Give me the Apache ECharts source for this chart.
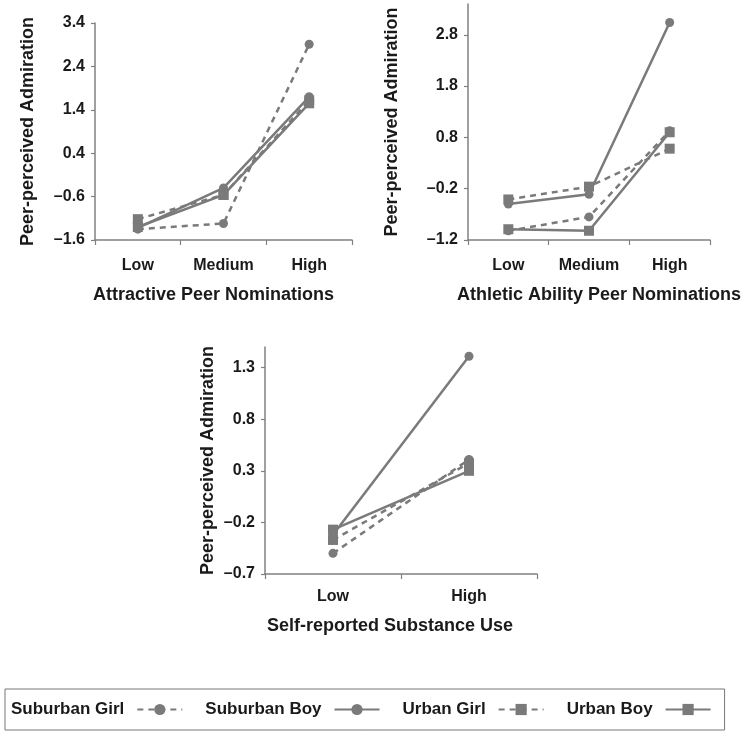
<!DOCTYPE html>
<html>
<head>
<meta charset="utf-8">
<script src="https://cdn.jsdelivr.net/npm/echarts@6/dist/echarts.min.js"></script>
<style>
html,body{margin:0;padding:0;background:#fff;}
#chart{width:750px;height:738px;}
</style>
</head>
<body>
<div id="chart"></div>
<script>
// ---- data ----
const seriesNames = ['Suburban Girl', 'Suburban Boy', 'Urban Girl', 'Urban Boy'];
const levels3 = ['Low', 'Medium', 'High'];
const levels2 = ['Low', 'High'];

// Attractive Peer Nominations
const attractiveSuburbanGirl = [-1.35, -1.22, 2.91];
const attractiveSuburbanBoy  = [-1.32, -0.40, 1.70];
const attractiveUrbanGirl    = [-1.12, -0.56, 1.62];
const attractiveUrbanBoy     = [-1.30, -0.56, 1.55];

// Athletic Ability Peer Nominations
const athleticSuburbanGirl = [-1.02, -0.75, 0.93];
const athleticSuburbanBoy  = [-0.50, -0.31, 3.04];
const athleticUrbanGirl    = [-0.41, -0.16, 0.58];
const athleticUrbanBoy     = [-0.99, -1.02, 0.90];

// Self-reported Substance Use
const substanceSuburbanGirl = [-0.50, 0.41];
const substanceSuburbanBoy  = [-0.32, 1.41];
const substanceUrbanGirl    = [-0.37, 0.375];
const substanceUrbanBoy     = [-0.27, 0.30];

// tick labels
const yTicksAttractive = [-1.6, -0.6, 0.4, 1.4, 2.4, 3.4];
const yTicksAthletic   = [-1.2, -0.2, 0.8, 1.8, 2.8];
const yTicksSubstance  = [-0.7, -0.2, 0.3, 0.8, 1.3];

const xTitles = ['Attractive Peer Nominations', 'Athletic Ability Peer Nominations', 'Self-reported Substance Use'];
const yTitle = 'Peer-perceived Admiration';

// ---- styles ----
const FONT = '"Liberation Sans", Arial, Helvetica, sans-serif';
const TXT = '#1a1a1a';
const AX = '#808080';
const LINE = '#7a7a7a';

function fmt(v) {
  const s = (Math.round(v * 10) / 10).toFixed(1);
  return s.replace('-', '\u2013');
}

function yAxis(gi, min, max, ticks, nameGap) {
  return {
    type: 'value', gridIndex: gi, min: min, max: max, interval: 1,
    name: yTitle, nameLocation: 'middle', nameRotate: 90, nameGap: nameGap,
    nameTextStyle: {fontFamily: FONT, fontWeight: 'bold', fontSize: 18, color: TXT},
    axisLine: {show: true, lineStyle: {color: AX, width: 1.5}},
    axisTick: {show: true, length: 4, customValues: ticks, lineStyle: {color: AX, width: 1.2}},
    axisLabel: {customValues: ticks, formatter: fmt, margin: 10,
      fontFamily: FONT, fontWeight: 'bold', fontSize: 16, color: TXT},
    splitLine: {show: false}
  };
}

function xAxis(gi, cats, title, nameGap, labelMargin, shift) {
  return {
    type: 'category', gridIndex: gi, data: cats, boundaryGap: true,
    name: title, nameLocation: 'middle', nameGap: nameGap,
    nameTextStyle: {fontFamily: FONT, fontWeight: 'bold', fontSize: 18, color: TXT,
      padding: shift > 0 ? [0, 0, 0, 2 * shift] : [0, -2 * shift, 0, 0]},
    axisLine: {show: true, onZero: false, lineStyle: {color: AX, width: 1.5}},
    axisTick: {show: true, length: 5, alignWithLabel: false, lineStyle: {color: AX, width: 1.2}},
    axisLabel: {margin: labelMargin, fontFamily: FONT, fontWeight: 'bold', fontSize: 16, color: TXT},
    splitLine: {show: false}
  };
}

const styleOf = {
  'Suburban Girl': {dashed: true, symbol: 'circle'},
  'Suburban Boy':  {dashed: false, symbol: 'circle'},
  'Urban Girl':    {dashed: true, symbol: 'rect'},
  'Urban Boy':     {dashed: false, symbol: 'rect'}
};

function mk(name, data, gi) {
  const st = styleOf[name];
  return {
    name: name, type: 'line', xAxisIndex: gi, yAxisIndex: gi, data: data,
    symbol: st.symbol, symbolSize: st.symbol === 'circle' ? 9 : 10,
    showSymbol: true, animation: false,
    lineStyle: {color: LINE, width: 2.5, type: st.dashed ? [6, 5] : 'solid'},
    itemStyle: {color: LINE, borderWidth: 0},
    emphasis: {disabled: true}
  };
}

const panelData = [
  [attractiveSuburbanGirl, attractiveSuburbanBoy, attractiveUrbanGirl, attractiveUrbanBoy],
  [athleticSuburbanGirl, athleticSuburbanBoy, athleticUrbanGirl, athleticUrbanBoy],
  [substanceSuburbanGirl, substanceSuburbanBoy, substanceUrbanGirl, substanceUrbanBoy]
];

const series = [];
panelData.forEach((arrs, gi) => {
  arrs.forEach((d, k) => series.push(mk(seriesNames[k], d, gi)));
});

const option = {
  backgroundColor: '#fff',
  animation: false,
  textStyle: {fontFamily: FONT},
  grid: [
    {left: 95, top: 23, width: 257, height: 217, containLabel: false},
    {left: 468, top: 4, width: 242, height: 236, containLabel: false},
    {left: 265, top: 347, width: 272, height: 227, containLabel: false}
  ],
  xAxis: [
    xAxis(0, levels3, xTitles[0], 46, 18, -10),
    xAxis(1, levels3, xTitles[1], 46, 18, 10),
    xAxis(2, levels2, xTitles[2], 43, 15, -11)
  ],
  yAxis: [
    yAxis(0, -1.6, 3.4, yTicksAttractive, 58),
    yAxis(1, -1.2, 3.4, yTicksAthletic, 67),
    yAxis(2, -0.7, 1.5, yTicksSubstance, 48)
  ],
  legend: {
    data: seriesNames,
    left: 5, top: 689,
    orient: 'horizontal', align: 'right',
    padding: [12, 13, 12, 6],
    borderColor: '#777', borderWidth: 1,
    itemWidth: 45, itemHeight: 14, itemGap: 22,
    selectedMode: false,
    textStyle: {fontFamily: FONT, fontWeight: 'bold', fontSize: 17, color: TXT, padding: [0, 8, 0, 0]}
  },
  series: series
};

const chart = echarts.init(document.getElementById('chart'), null, {renderer: 'canvas'});
chart.setOption(option);
</script>
</body>
</html>
